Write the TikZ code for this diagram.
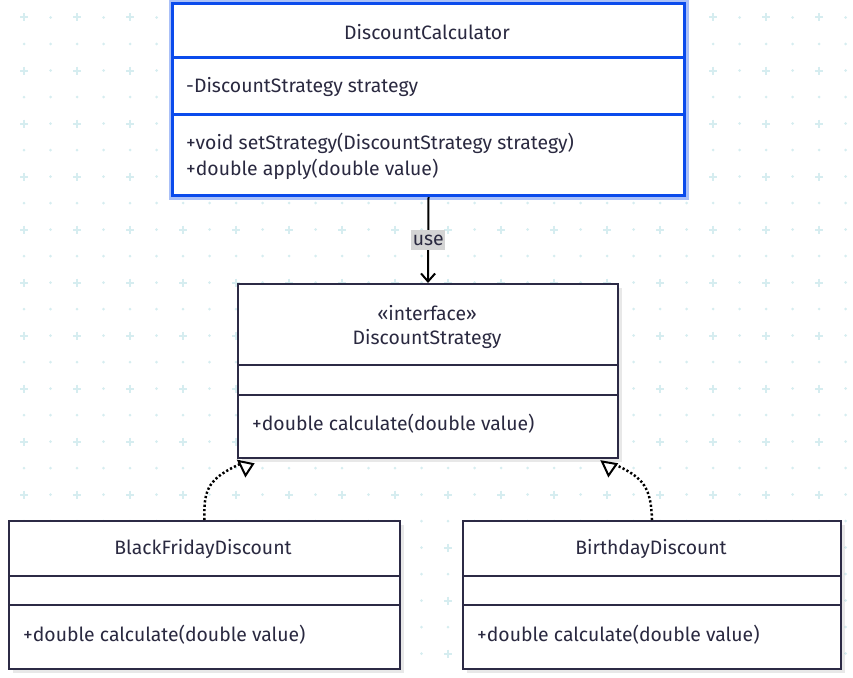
\documentclass[tikz,border=0pt]{standalone}
\usepackage{fontspec}
\setmainfont{Fira Sans}
\usetikzlibrary{arrows.meta,shadows}
\definecolor{inkblue}{HTML}{0B4BEC}
\definecolor{boxline}{HTML}{2C2A45}
\definecolor{textink}{HTML}{2A2940}
\definecolor{gridcyan}{HTML}{D6EDF0}
\definecolor{labelgray}{HTML}{D4D4D4}

\begin{document}
\begin{tikzpicture}[x=1pt, y=-1pt,
    font=\fontsize{19.4}{24}\selectfont, text=textink,
    classbox/.style={draw=boxline, line width=2, fill=white,
      drop shadow={shadow xshift=4pt, shadow yshift=-4pt, fill=black, opacity=0.09}},
    divider/.style={draw=boxline, line width=2},
    member/.style={anchor=west, inner sep=0},
    uses/.style={draw=black, line width=2, -{Straight Barb[length=8, width=14, line width=2]}},
    realize/.style={draw=black, line width=2.5, dash pattern=on 2.2pt off 2.2pt},
    opentri/.style={draw=black, line width=2, fill=white, line join=miter}]
  \useasboundingbox (0,0) rectangle (853,677);
  % dotted background
  \foreach \i in {0,...,31}
    \foreach \j in {0,...,24}
      \fill[gridcyan] (24+26.5*\i,17.5+26.5*\j) circle (1.5);
  \foreach \i in {0,2,...,30}
    \foreach \j in {0,2,...,24}
      \draw[gridcyan, line width=2] (20+26.5*\i,17.5+26.5*\j) -- ++(8,0)
        (24+26.5*\i,13.5+26.5*\j) -- ++(0,8);
  % DiscountCalculator
  \node[classbox, draw=inkblue, line width=3, preaction={draw=inkblue!35, line width=8},
    anchor=north west, minimum width=512, minimum height=192] (calc) at (171,2) {};
  \draw[divider, draw=inkblue, line width=3] (calc.west |- 0,58) -- (calc.east |- 0,58);
  \draw[divider, draw=inkblue, line width=3] (calc.west |- 0,114) -- (calc.east |- 0,114);
  \node (calcname) at (427,32) {DiscountCalculator};
  \node[member] (calcfield) at (186,87) {-DiscountStrategy strategy};
  \node[member] (calcset) at (186,143) {+void setStrategy(DiscountStrategy strategy)};
  \node[member] (calcapply) at (186,169) {+double apply(double value)};
  % DiscountStrategy
  \node[classbox, anchor=north west, minimum width=380, minimum height=174] (strat) at (237,283) {};
  \draw[divider] (strat.west |- 0,365) -- (strat.east |- 0,365);
  \draw[divider] (strat.west |- 0,395) -- (strat.east |- 0,395);
  \node (stratkind) at (427,313) {«interface»};
  \node (stratname) at (427,339) {DiscountStrategy};
  \node[member] (stratcalc) at (252,424) {+double calculate(double value)};
  % BlackFridayDiscount
  \node[classbox, anchor=north west, minimum width=391, minimum height=148] (black) at (8,520) {};
  \draw[divider] (black.west |- 0,576) -- (black.east |- 0,576);
  \draw[divider] (black.west |- 0,605) -- (black.east |- 0,605);
  \node (blackname) at (203,549) {BlackFridayDiscount};
  \node[member] (blackcalc) at (23,635) {+double calculate(double value)};
  % BirthdayDiscount
  \node[classbox, anchor=north west, minimum width=378, minimum height=148] (birth) at (462,520) {};
  \draw[divider] (birth.west |- 0,576) -- (birth.east |- 0,576);
  \draw[divider] (birth.west |- 0,605) -- (birth.east |- 0,605);
  \node (birthname) at (651,549) {BirthdayDiscount};
  \node[member] (birthcalc) at (477,635) {+double calculate(double value)};
  % use
  \draw[uses] (calc.south) -- (strat.north)
    node[pos=0.5, fill=labelgray, inner xsep=1.5, inner ysep=5, text=textink] (uselabel) {use};
  % realization
  \coordinate (blacktip) at (240,464);
  \coordinate (birthtip) at (616,465);
  \draw[realize] (black.north) .. controls (203,488) and (210,478) .. (blacktip);
  \draw[realize] (birth.north) .. controls (651,488) and (644,478) .. (birthtip);
  \draw[opentri] (238.5,461) -- (253,464) -- (245.5,475.5) -- cycle;
  \draw[opentri] (602,461.5) -- (616.5,464) -- (608.5,475.5) -- cycle;
\end{tikzpicture}
\end{document}
